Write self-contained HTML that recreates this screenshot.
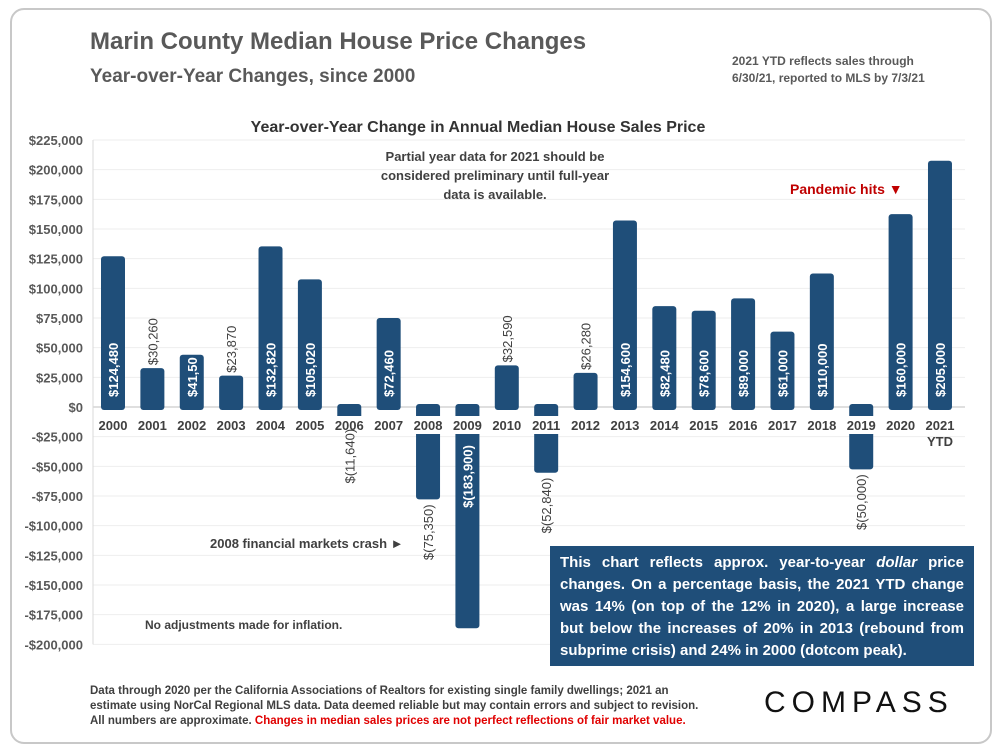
<!DOCTYPE html>
<html><head><meta charset="utf-8"><style>
body{margin:0;background:#fff;font-family:"Liberation Sans",sans-serif;}
#frame{position:absolute;left:10px;top:8px;width:978px;height:732px;border:2px solid #c8c8c8;border-radius:14px;}
.t{position:absolute;color:#595959;font-weight:bold;}
</style></head><body>
<div id="frame"></div>
<div class="t" style="left:90px;top:28px;font-size:24px;">Marin County Median House Price Changes</div>
<div class="t" style="left:90px;top:66px;font-size:19px;">Year-over-Year Changes, since 2000</div>
<div class="t" style="left:732px;top:53px;font-size:12px;line-height:17px;">2021 YTD reflects sales through<br>6/30/21, reported to MLS by 7/3/21</div>
<svg id="chart" width="1000" height="750" style="position:absolute;left:0;top:0">
<text x="478" y="132" text-anchor="middle" font-size="16" font-weight="bold" fill="#333">Year-over-Year Change in Annual Median House Sales Price</text>
<g id="grid"></g><g id="bars"></g><g id="labels"></g>
</svg>
<div class="t" style="left:380px;top:147px;width:230px;text-align:center;font-size:13px;line-height:19px;color:#404040;">Partial year data for 2021 should be considered preliminary until full-year data is available.</div>
<div class="t" style="left:790px;top:181px;font-size:14px;color:#c00000;">Pandemic hits ▼</div>
<div class="t" style="left:210px;top:536px;font-size:13px;color:#404040;">2008 financial markets crash ►</div>
<div class="t" style="left:145px;top:618px;font-size:12px;color:#404040;">No adjustments made for inflation.</div>
<div style="position:absolute;left:550px;top:546px;width:424px;height:120px;box-sizing:border-box;background:#1f4e79;color:#fff;font-weight:bold;font-size:15px;line-height:22px;padding:6px 10px;text-align:justify;">This chart reflects approx. year-to-year <i>dollar</i> price changes. On a percentage basis, the 2021 YTD change was 14% (on top of the 12% in 2020), a large increase but below the increases of 20% in 2013 (rebound from subprime crisis) and 24% in 2000 (dotcom peak).</div>
<div style="position:absolute;left:90px;top:684px;width:625px;font-size:11.5px;line-height:15px;color:#404040;font-weight:bold;">Data through 2020 per the California Associations of Realtors for existing single family dwellings; 2021 an estimate using NorCal Regional MLS data. Data deemed reliable but may contain errors and subject to revision. All numbers are approximate. <span style="color:#e00000">Changes in median sales prices are not perfect reflections of fair market value.</span></div>
<div style="position:absolute;left:764px;top:686px;font-size:30px;letter-spacing:6px;color:#111;">COMPASS</div>
<script>
const years=["2000","2001","2002","2003","2004","2005","2006","2007","2008","2009","2010","2011","2012","2013","2014","2015","2016","2017","2018","2019","2020","2021"];
const values=[124480,30260,41500,23870,132820,105020,-11640,72460,-75350,-183900,32590,-52840,26280,154600,82480,78600,89000,61000,110000,-50000,160000,205000];
const valueLabels=["$124,480","$30,260","$41,50","$23,870","$132,820","$105,020","$(11,640)","$72,460","$(75,350)","$(183,900)","$32,590","$(52,840)","$26,280","$154,600","$82,480","$78,600","$89,000","$61,000","$110,000","$(50,000)","$160,000","$205,000"];
const ticks=[225000,200000,175000,150000,125000,100000,75000,50000,25000,0,-25000,-50000,-75000,-100000,-125000,-150000,-175000,-200000];
const y=v=>407-v*(267/225000);
const x=i=>113+i*39.38;
const NS="http://www.w3.org/2000/svg";
function mk(tag,attrs,parent,txt){const e=document.createElementNS(NS,tag);for(const k in attrs)e.setAttribute(k,attrs[k]);if(txt!==undefined)e.textContent=txt;parent.appendChild(e);return e;}
const grid=document.getElementById('grid'),bars=document.getElementById('bars'),labels=document.getElementById('labels');
ticks.forEach(t=>{
 const gl=mk('line',{x1:93,x2:965,y1:y(t),y2:y(t),stroke:t===0?'#bfbfbf':'#eeeeee','stroke-width':1},grid);
 
 
 const s=t<0?'-$'+(-t).toLocaleString('en-US'):'$'+t.toLocaleString('en-US');
 const tl=mk('text',{x:83,y:y(t)+5,'text-anchor':'end','font-size':13,'font-weight':'bold',fill:'#595959'},grid,s);
 
 
});
mk('line',{x1:93,x2:93,y1:y(225000),y2:y(-200000),stroke:'#d9d9d9'},grid);
years.forEach((yr,i)=>{
 const v=values[i],cx=x(i),w=24;
 const top=Math.min(y(v),y(0))-3,bot=Math.max(y(v),y(0))+3;
 const r=mk('rect',{x:cx-w/2,y:top,width:w,height:bot-top,rx:3,fill:'#1f4e79'},bars);
 
 
 mk('rect',{x:cx-16,y:416,width:32,height:18,fill:'#fff'},labels);
 const xl=mk('text',{x:cx,y:430,'text-anchor':'middle','font-size':13,'font-weight':'bold',fill:'#404040'},labels,yr);
 
 
 const big=Math.abs(v)>40000, lab=valueLabels[i];
 let ty,anchor,fill;
 if(v>0){ if(big){ty=y(0)-10;anchor='start';fill='#fff';} else {ty=y(v)-6;anchor='start';fill='#404040';} }
 else { if(Math.abs(v)>150000){ty=y(0)+38;anchor='end';fill='#fff';} else {ty=y(v)+8;anchor='end';fill='#404040';} }
 const vl=mk('text',{x:cx+5,y:ty,'text-anchor':anchor,'font-size':13,'font-weight':fill==='#fff'?'bold':'normal',fill:fill,transform:`rotate(-90 ${cx+5} ${ty})`},labels,lab);
 
 
});
const ytd=mk('text',{x:x(21),y:446,'text-anchor':'middle','font-size':13,'font-weight':'bold',fill:'#404040'},labels,'YTD');


</script>
</body></html>
